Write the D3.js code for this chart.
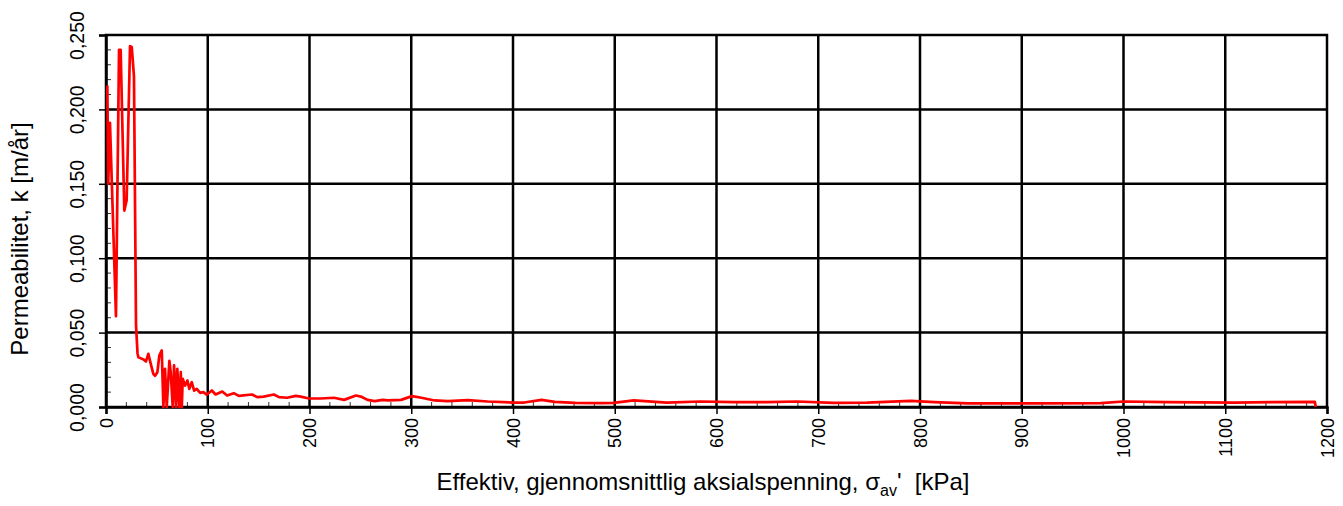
<!DOCTYPE html>
<html>
<head>
<meta charset="utf-8">
<script src="https://cdn.jsdelivr.net/npm/d3@7"></script>
<style>
    body { margin: 0; background: #fff; }
    svg { display: block; font-family: "Liberation Sans", Arial, sans-serif; }
</style>
</head>
<body>
<svg id="chart" width="1343" height="506"></svg>
<script>
// effective axial stress [kPa] and permeability [m/år]
const stress = [
    1.3, 2.2, 3.9, 9.8, 12.8, 14.4, 18.0, 20.3, 23.6, 25.3, 27.5, 29.5, 31.0, 31.8,
    36.7, 39.3, 41.6, 44.0, 46.5, 48.2, 50.5, 52.4, 54.8, 56.4, 58.0, 59.7, 62.3,
    63.6, 65.6, 66.9, 68.9, 70.1, 72.1, 73.5, 74.5, 75.4, 77.7, 80.0, 81.9, 84.3,
    86.6, 89.2, 92.5, 95.7, 99.0, 104, 107.7, 114.3, 119, 125.6, 130.5, 143.6,
    148.6, 155, 165, 170, 178, 186.5, 191.4, 199.5, 211, 224, 234, 245.6, 250.5,
    257, 264, 272, 277, 290, 300.8, 310, 323, 336, 355.7, 375, 401, 411, 428, 441,
    461, 487, 499, 518.7, 551, 584, 617, 650, 679, 715, 748, 791, 814, 847, 880,
    912, 977.5, 1000, 1043, 1109, 1188, 1189
];
const permeability = [
    0.216, 0.150, 0.191, 0.061, 0.240, 0.240, 0.132, 0.139, 0.2425, 0.242, 0.222,
    0.055, 0.036, 0.0335, 0.032, 0.0306, 0.0357, 0.029, 0.0223, 0.021, 0.0234,
    0.0346, 0.038, 0.0, 0.0257, 0.0, 0.031, 0.0234, 0.0, 0.028, 0.0, 0.0257, 0.0,
    0.0234, 0.0, 0.019, 0.0144, 0.0178, 0.0122, 0.0167, 0.011, 0.0122, 0.0095,
    0.010, 0.0082, 0.0111, 0.0084, 0.0104, 0.0077, 0.0093, 0.0075, 0.0084, 0.0066,
    0.0070, 0.0084, 0.0066, 0.0062, 0.0075, 0.0070, 0.0057, 0.0057, 0.0062, 0.0048,
    0.0077, 0.0070, 0.0048, 0.0040, 0.0048, 0.0044, 0.0048, 0.0073, 0.0062, 0.0044,
    0.0040, 0.0046, 0.0037, 0.0030, 0.0030, 0.0048, 0.0035, 0.0028, 0.0026, 0.0028,
    0.0044, 0.0030, 0.0037, 0.0033, 0.0033, 0.0037, 0.0028, 0.0030, 0.0041, 0.0033,
    0.0024, 0.0024, 0.0024, 0.0026, 0.0037, 0.0033, 0.0030, 0.0035, 0.0
];

const xTicks = [0, 100, 200, 300, 400, 500, 600, 700, 800, 900, 1000, 1100, 1200];
const yTicks = [0, 0.05, 0.10, 0.15, 0.20, 0.25];
const yTickLabels = ["0,000", "0,050", "0,100", "0,150", "0,200", "0,250"];

const svg = d3.select("#chart");
const plotLeft = 106, plotRight = 1327, plotTop = 35, plotBottom = 407;

const x = d3.scaleLinear().domain([0, 1200]).range([plotLeft, plotRight]);
const y = d3.scaleLinear().domain([0, 0.25]).range([plotBottom, plotTop]);

// minor ticks, inward
const xMinor = d3.range(0, 1201, 20).filter(v => v % 100 !== 0);
const yMinor = d3.range(0, 26, 1).map(v => v / 100).filter(v => Math.round(v * 100) % 5 !== 0);

svg.append("g")
    .attr("stroke", "#333")
    .attr("stroke-width", 1)
    .selectAll("line")
    .data(xMinor)
    .join("line")
    .attr("x1", d => x(d)).attr("x2", d => x(d))
    .attr("y1", plotBottom).attr("y2", plotBottom - 5);

svg.append("g")
    .attr("stroke", "#333")
    .attr("stroke-width", 1)
    .selectAll("line")
    .data(yMinor)
    .join("line")
    .attr("y1", d => y(d)).attr("y2", d => y(d))
    .attr("x1", plotLeft).attr("x2", plotLeft + 5);

// grid
svg.append("g")
    .attr("stroke", "#000")
    .attr("stroke-width", 2.5)
    .selectAll("line")
    .data(xTicks.slice(1, -1))
    .join("line")
    .attr("x1", d => x(d)).attr("x2", d => x(d))
    .attr("y1", plotTop).attr("y2", plotBottom);

svg.append("g")
    .attr("stroke", "#000")
    .attr("stroke-width", 2.5)
    .selectAll("line")
    .data(yTicks.slice(1, -1))
    .join("line")
    .attr("y1", d => y(d)).attr("y2", d => y(d))
    .attr("x1", plotLeft).attr("x2", plotRight);

svg.append("rect")
    .attr("x", plotLeft).attr("y", plotTop)
    .attr("width", plotRight - plotLeft).attr("height", plotBottom - plotTop)
    .attr("fill", "none")
    .attr("stroke", "#000")
    .attr("stroke-width", 2.5);

// axes
const xAxis = svg.append("g")
    .attr("transform", `translate(0,${plotBottom})`)
    .call(d3.axisBottom(x).tickValues(xTicks).tickSize(7).tickFormat(d3.format("d")));
xAxis.select(".domain").attr("stroke-width", 2.5);
xAxis.selectAll(".tick line").attr("stroke-width", 1.5);
xAxis.selectAll(".tick text")
    .attr("font-size", 18)
    .attr("font-family", "Liberation Sans, Arial, sans-serif")
    .attr("fill", "#000")
    .attr("text-anchor", "end")
    .attr("dominant-baseline", "central")
    .attr("transform", "translate(0,11) rotate(-90)")
    .attr("x", 0).attr("y", 0).attr("dy", null);

const yAxis = svg.append("g")
    .attr("transform", `translate(${plotLeft},0)`)
    .call(d3.axisLeft(y).tickValues(yTicks).tickSize(7).tickFormat((d, i) => yTickLabels[i]));
yAxis.select(".domain").attr("stroke-width", 2.5);
yAxis.selectAll(".tick line").attr("stroke-width", 1.5);
yAxis.selectAll(".tick text")
    .attr("font-size", 19.5)
    .attr("font-family", "Liberation Sans, Arial, sans-serif")
    .attr("fill", "#000")
    .attr("text-anchor", "middle")
    .attr("dominant-baseline", "central")
    .attr("transform", "translate(-29,0) rotate(-90)")
    .attr("x", 0).attr("y", 0).attr("dy", null);

// data line
const line = d3.line()
    .x((d, i) => x(stress[i]))
    .y(d => y(d));

svg.append("path")
    .datum(permeability)
    .attr("fill", "none")
    .attr("stroke", "#ff0000")
    .attr("stroke-width", 2.7)
    .attr("stroke-linejoin", "round")
    .attr("d", line);

// axis titles
svg.append("text")
    .attr("transform", "translate(28,239) rotate(-90)")
    .attr("text-anchor", "middle")
    .attr("font-size", 24)
    .text("Permeabilitet, k [m/år]");

const xTitle = svg.append("text")
    .attr("x", 703)
    .attr("y", 490)
    .attr("text-anchor", "middle")
    .attr("font-size", 24);
xTitle.append("tspan").text("Effektiv, gjennomsnittlig aksialspenning, σ");
xTitle.append("tspan").attr("font-size", 16).attr("dy", 6).text("av");
xTitle.append("tspan").attr("dy", -6).attr("xml:space", "preserve").text("'  [kPa]");
</script>
</body>
</html>
